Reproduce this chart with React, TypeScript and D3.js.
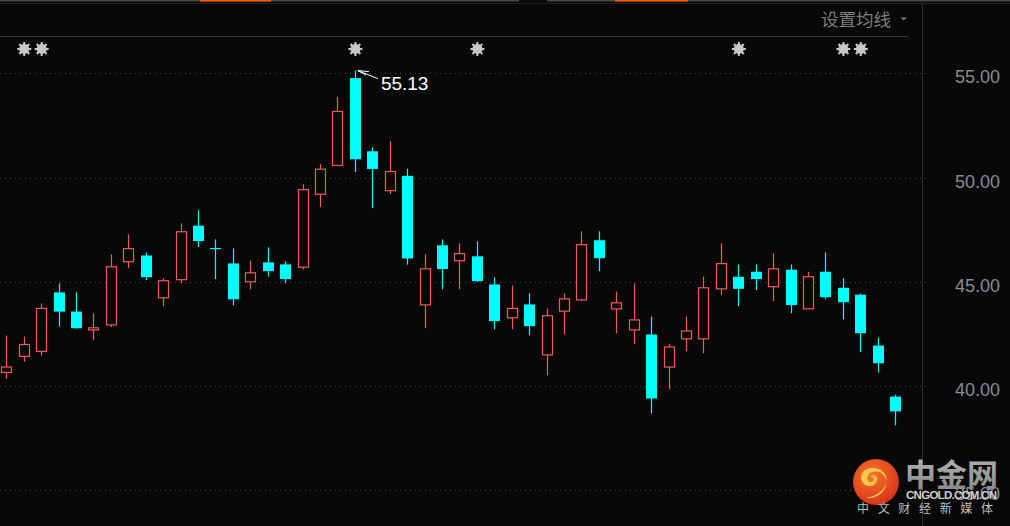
import React, { useEffect } from "react";
import * as d3 from "d3";

// candle data (red = up, cyan = down)
const opens = [40.65, 41.42, 41.66, 44.49, 43.57, 42.69, 42.93, 45.96, 46.26, 44.23, 45.1, 47.69, 46.62, 45.88, 45.0, 45.93, 45.83, 45.7, 49.2, 50.58, 54.77, 51.26, 49.37, 50.08, 43.89, 46.75, 46.01, 46.22, 44.87, 43.27, 43.91, 41.49, 43.59, 44.13, 46.99, 43.7, 42.69, 42.47, 40.91, 42.26, 42.26, 44.66, 45.24, 45.48, 44.76, 45.58, 43.7, 45.48, 44.71, 44.38, 41.94, 39.49];
const closes = [40.91, 41.99, 43.72, 43.57, 42.77, 42.79, 45.72, 46.59, 45.22, 45.05, 47.4, 46.95, 46.58, 44.16, 45.43, 45.51, 45.13, 49.42, 50.4, 53.17, 50.88, 50.41, 50.29, 46.12, 45.62, 45.61, 46.35, 45.03, 43.11, 43.72, 42.87, 43.37, 44.18, 46.78, 46.13, 43.99, 43.17, 39.4, 41.87, 42.64, 44.71, 45.87, 44.66, 45.13, 45.62, 43.88, 45.24, 44.26, 44.02, 42.53, 41.09, 38.78];
const highs = [42.42, 42.37, 43.96, 44.92, 44.49, 43.48, 46.31, 47.27, 46.41, 45.16, 47.8, 48.43, 47.03, 46.6, 46.02, 46.65, 45.98, 49.68, 50.64, 53.86, 55.13, 51.44, 51.75, 50.42, 46.31, 47.03, 46.84, 46.94, 45.21, 44.82, 44.44, 43.72, 44.44, 47.42, 47.42, 44.53, 44.92, 43.33, 42.03, 43.33, 45.25, 46.84, 45.83, 45.83, 46.36, 45.83, 45.48, 46.41, 45.16, 44.44, 42.32, 39.58];
const lows = [40.35, 41.17, 41.46, 42.85, 42.75, 42.19, 42.82, 45.65, 45.08, 43.83, 44.93, 46.66, 45.13, 43.87, 44.64, 45.25, 44.93, 45.59, 48.59, 50.55, 50.27, 48.53, 49.2, 45.82, 42.77, 44.64, 44.64, 44.98, 42.72, 42.72, 42.43, 40.51, 42.48, 44.07, 45.51, 42.53, 42.0, 38.68, 39.84, 41.66, 41.57, 44.36, 43.83, 44.6, 44.07, 43.49, 43.7, 44.16, 43.2, 41.62, 40.65, 38.11];

// candles carrying a star marker above the chart
const markerIdx = [1, 2, 20, 27, 42, 48, 49];

const yTicks = [35, 40, 45, 50, 55];

const W = 1010;
const H = 526;
const BG = "#080808";
const RED = "#f25a5a";
const CYAN = "#00ffff";

const Star = ({ x, y }: { x: number; y: number }) => {
    const spikes = d3.range(8).map((k) => {
        const a = (k * Math.PI) / 4;
        return (
            <line
                key={k}
                x1={x + Math.cos(a) * 4}
                y1={y + Math.sin(a) * 4}
                x2={x + Math.cos(a) * 7}
                y2={y + Math.sin(a) * 7}
                stroke="#c8c8c8"
                strokeWidth={2}
            />
        );
    });
    return (
        <g>
            {spikes}
            <circle cx={x} cy={y} r={5} fill="#c8c8c8" />
        </g>
    );
};

export default function App() {
    useEffect(() => {
        document.body.style.margin = "0";
        document.body.style.background = BG;
    }, []);

    const n = opens.length;
    const x = d3
        .scalePoint<number>()
        .domain(d3.range(n))
        .range([6.3, 895.2]);
    const y = d3.scaleLinear().domain([35, 55]).range([490.2, 73.3]);
    const bodyW = 11;
    const px = (v: number) => Math.round(v) + 0.5;

    const maxI = d3.maxIndex(highs);
    const tipX = (x(maxI) ?? 0) + 3;
    const tipY = y(highs[maxI]);

    return (
        <svg
            width={W}
            height={H}
            style={{ position: "fixed", left: 0, top: 0, background: BG, display: "block" }}
            fontFamily="'Noto Sans', 'Noto Sans CJK SC', sans-serif"
        >
            <rect width={W} height={H} fill={BG} />

            {/* top tab strip */}
            <rect x={0} y={0} width={519} height={1.5} fill="#4a4a4a" />
            <rect x={547} y={0} width={463} height={1.5} fill="#4a4a4a" />
            <rect x={200} y={0} width={71} height={1.5} fill="#ff5a00" />
            <rect x={615} y={0} width={73} height={1.5} fill="#ff5a00" />
            <line x1={0} x2={W} y1={3.5} y2={3.5} stroke="#222" />

            {/* header */}
            <text x={821} y={25.5} fontSize={17.5} fill="#7c7c7c" fontFamily="'Noto Sans CJK SC', sans-serif">
                设置均线
            </text>
            <path d="M900.5,17.5 L907,17.5 L903.7,20.5 Z" fill="#7c7c7c" />
            <line x1={0} x2={909} y1={36.5} y2={36.5} stroke="#333" />

            {/* axis separator */}
            <line x1={922.5} x2={922.5} y1={4} y2={H} stroke="#2e2e2e" />

            {/* grid lines and labels */}
            {yTicks.map((t) => (
                <g key={t}>
                    <line
                        x1={0}
                        x2={927}
                        y1={px(y(t))}
                        y2={px(y(t))}
                        stroke="#4a4a4a"
                        strokeDasharray="1,4"
                    />
                    <text
                        x={1000}
                        y={y(t) + 10}
                        textAnchor="end"
                        fontSize={18}
                        fill="#878c93"
                        fontFamily="'Liberation Sans', 'Noto Sans', sans-serif"
                    >
                        {t.toFixed(2)}
                    </text>
                </g>
            ))}

            {/* markers */}
            {markerIdx.map((i) => (
                <Star key={i} x={(x(i) ?? 0) + 0.5} y={49} />
            ))}

            {/* candles */}
            {opens.map((o, i) => {
                const c = closes[i];
                const up = c >= o;
                const cx = px(x(i) ?? 0);
                const top = y(Math.max(o, c));
                const bot = y(Math.min(o, c));
                const col = up ? RED : CYAN;
                if (up) {
                    return (
                        <g key={i}>
                            <line x1={cx} x2={cx} y1={y(highs[i])} y2={top} stroke={col} strokeWidth={1.2} />
                            <line x1={cx} x2={cx} y1={bot} y2={y(lows[i])} stroke={col} strokeWidth={1.2} />
                            <rect
                                x={cx - bodyW / 2 + 0.5}
                                y={top}
                                width={bodyW - 1}
                                height={Math.max(1, bot - top)}
                                fill={BG}
                                stroke={col}
                                strokeWidth={1.2}
                            />
                        </g>
                    );
                }
                return (
                    <g key={i}>
                        <line x1={cx} x2={cx} y1={y(highs[i])} y2={y(lows[i])} stroke={col} strokeWidth={1.2} />
                        <rect
                            x={cx - bodyW / 2}
                            y={top}
                            width={bodyW}
                            height={Math.max(1.2, bot - top)}
                            fill={col}
                        />
                    </g>
                );
            })}

            {/* max annotation */}
            <g stroke="#ffffff" strokeWidth={1}>
                <line x1={tipX} y1={tipY} x2={tipX + 20} y2={tipY + 8} />
                <line x1={tipX} y1={tipY} x2={tipX + 11} y2={tipY + 1} />
                <line x1={tipX} y1={tipY} x2={tipX + 8} y2={tipY + 4.5} />
            </g>
            <text
                x={tipX + 23}
                y={tipY + 19}
                fontSize={19}
                fill="#ffffff"
                fontFamily="'Liberation Sans', 'Noto Sans', sans-serif"
            >
                {highs[maxI].toFixed(2)}
            </text>

            {/* watermark */}
            <defs>
                <radialGradient id="logoGrad" cx="40%" cy="35%" r="70%">
                    <stop offset="0%" stopColor="#f5762a" />
                    <stop offset="100%" stopColor="#d8301a" />
                </radialGradient>
                <linearGradient id="wmText" x1="0" y1="0" x2="0" y2="1">
                    <stop offset="0%" stopColor="#b8b8b8" />
                    <stop offset="100%" stopColor="#858585" />
                </linearGradient>
            </defs>
            <circle cx={876} cy={482} r={23} fill="url(#logoGrad)" />
            <path
                d="M872,468 C862,468 858,478 864,484 C868,488 876,486 877,480 C878,476 873,474 870,477 C874,476 876,481 871,482 C866,482 866,474 872,472 C882,469 889,478 885,488 C882,495 873,499 866,498 C876,496 884,491 886,483 C888,474 882,468 872,468 Z"
                fill="#f7c64a"
            />
            <text
                x={905}
                y={486}
                fontSize={31}
                fontWeight="bold"
                fill="url(#wmText)"
                fontFamily="'Noto Sans CJK SC', sans-serif"
            >
                中金网
            </text>
            <text
                x={906}
                y={499}
                fontSize={11.5}
                fontWeight="bold"
                fill="#cfcfcf"
                textLength={91}
                fontFamily="'Liberation Sans', sans-serif"
            >
                CNGOLD.COM.CN
            </text>
            <text
                x={857}
                y={513}
                fontSize={12}
                fill="#bdbdbd"
                textLength={136}
                fontFamily="'Noto Sans CJK SC', sans-serif"
            >
                中文财经新媒体
            </text>
        </svg>
    );
}
